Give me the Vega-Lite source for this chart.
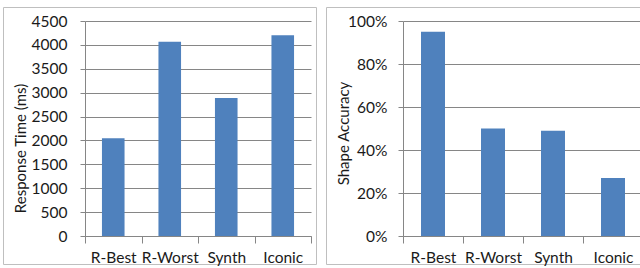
{
  "$schema": "https://vega.github.io/schema/vega-lite/v6.json",
  "padding": {"left": 2, "top": 6, "right": 0, "bottom": 0},
  "spacing": 8,
  "background": "white",
  "config": {
    "font": "Lato",
    "view": {"stroke": "#bfbfbf", "strokeWidth": 1},
    "axis": {
      "labelFont": "Lato", "labelFontSize": 15.5, "labelColor": "#1a1a1a",
      "titleFont": "Lato", "titleFontSize": 15, "titleFontWeight": "normal", "titleColor": "#1a1a1a",
      "domainColor": "#868686", "tickColor": "#868686", "gridColor": "#868686", "gridOpacity": 1
    }
  },
  "datasets": {
    "time": [
      {"method": "R-Best", "time": 2045},
      {"method": "R-Worst", "time": 4065},
      {"method": "Synth", "time": 2890},
      {"method": "Iconic", "time": 4200}
    ],
    "acc": [
      {"method": "R-Best", "accuracy": 0.95},
      {"method": "R-Worst", "accuracy": 0.50},
      {"method": "Synth", "accuracy": 0.49},
      {"method": "Iconic", "accuracy": 0.27}
    ]
  },
  "hconcat": [
    {
      "width": 313, "height": 257,
      "data": {"name": "time"},
      "mark": {"type": "bar", "color": "#4F81BD", "width": {"band": 0.4}},
      "encoding": {
        "x": {
          "field": "method", "type": "nominal", "sort": null,
          "scale": {"range": [82, 308], "paddingInner": 0, "paddingOuter": 0},
          "axis": {"title": null, "labelAngle": 0, "tickBand": "extent", "tickSize": 7, "labelPadding": 7, "offset": -28, "grid": false}
        },
        "y": {
          "field": "time", "type": "quantitative",
          "scale": {"domain": [0, 4500], "range": [229, 14], "nice": false},
          "axis": {
            "title": "Response Time (ms)", "values": [0, 500, 1000, 1500, 2000, 2500, 3000, 3500, 4000, 4500], "format": "d",
            "offset": -82, "tickSize": 5, "labelPadding": 13,
            "titleX": -60, "titleY": 141, "titleBaseline": "alphabetic", "grid": true
          }
        }
      }
    },
    {
      "width": 318, "height": 257,
      "data": {"name": "acc"},
      "mark": {"type": "bar", "color": "#4F81BD", "width": {"band": 0.4}},
      "encoding": {
        "x": {
          "field": "method", "type": "nominal", "sort": null,
          "scale": {"range": [77, 317], "paddingInner": 0, "paddingOuter": 0},
          "axis": {"title": null, "labelAngle": 0, "tickBand": "extent", "tickSize": 7, "labelPadding": 7, "offset": -28, "grid": false}
        },
        "y": {
          "field": "accuracy", "type": "quantitative",
          "scale": {"domain": [0, 1], "range": [229, 14], "nice": false},
          "axis": {
            "title": "Shape Accuracy", "values": [0, 0.2, 0.4, 0.6, 0.8, 1], "format": ".0%",
            "offset": -77, "tickSize": 5, "labelPadding": 11,
            "titleX": -55, "titleY": 126, "titleBaseline": "alphabetic", "grid": true
          }
        }
      }
    }
  ]
}
